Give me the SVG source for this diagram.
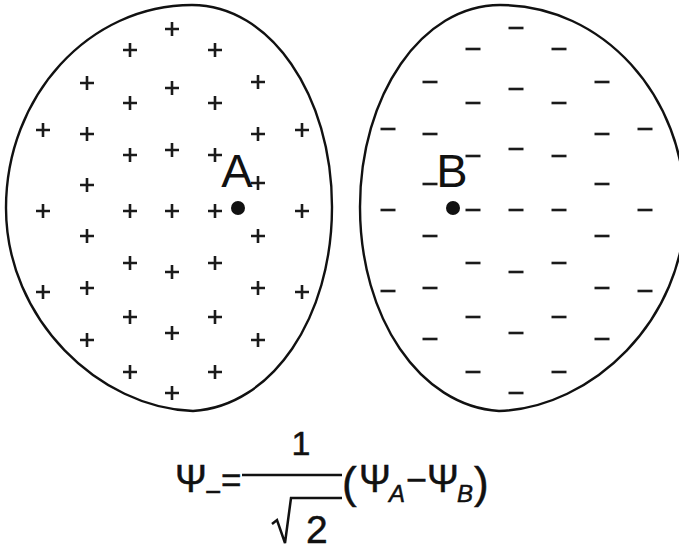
<svg xmlns="http://www.w3.org/2000/svg" width="679" height="550" viewBox="0 0 679 550">
<style>
.outline{fill:none;stroke:#111;stroke-width:2.4;stroke-linejoin:round}
.chg{fill:none;stroke:#1a1a1a;stroke-width:2.6}
.lbl{font-family:"Liberation Sans",Arial,sans-serif;font-size:47px;fill:#111}
.f{font-family:"Liberation Sans",Arial,sans-serif;font-size:38px;fill:#111;stroke:#111;stroke-width:0.5}
.it{font-size:24px;font-style:italic}
.math{fill:none;stroke:#111;stroke-width:2.5}
</style>
<defs>
<path id="plus" class="chg" d="M-7,0H7M0,-7V7"/>
<path id="minus" class="chg" d="M-7.5,0H7.5"/>
</defs>
<rect width="679" height="550" fill="#fff"/>
<g id="orbital-A">
<path class="outline" d="M192,5 C270,5 332,95 332,207 C332,318 272,406 193,411 C100,408 6,320 6,208 C6,96 89,5 192,5 Z"/>
<g id="charges-A">
<use href="#plus" x="172" y="29"/>
<use href="#plus" x="130" y="50"/><use href="#plus" x="215" y="50"/>
<use href="#plus" x="87" y="83"/><use href="#plus" x="172" y="88"/><use href="#plus" x="258" y="82"/>
<use href="#plus" x="130" y="103"/><use href="#plus" x="215" y="103"/>
<use href="#plus" x="43" y="130"/><use href="#plus" x="87" y="134"/><use href="#plus" x="258" y="134"/><use href="#plus" x="302" y="130"/>
<use href="#plus" x="130" y="155"/><use href="#plus" x="172" y="150"/><use href="#plus" x="215" y="155"/>
<use href="#plus" x="87" y="185"/><use href="#plus" x="258" y="183"/>
<use href="#plus" x="43" y="211"/><use href="#plus" x="130" y="211"/><use href="#plus" x="172" y="211"/><use href="#plus" x="215" y="211"/><use href="#plus" x="302" y="211"/>
<use href="#plus" x="87" y="236"/><use href="#plus" x="258" y="236"/>
<use href="#plus" x="130" y="263"/><use href="#plus" x="172" y="272"/><use href="#plus" x="215" y="263"/>
<use href="#plus" x="43" y="292"/><use href="#plus" x="87" y="288"/><use href="#plus" x="258" y="288"/><use href="#plus" x="302" y="292"/>
<use href="#plus" x="130" y="317"/><use href="#plus" x="172" y="333"/><use href="#plus" x="215" y="317"/>
<use href="#plus" x="87" y="340"/><use href="#plus" x="258" y="340"/>
<use href="#plus" x="130" y="372"/><use href="#plus" x="215" y="372"/>
<use href="#plus" x="172" y="393"/>
</g>
<text class="lbl" x="237" y="187" text-anchor="middle">A</text>
<circle cx="238" cy="208" r="7" fill="#111"/>
</g>
<g id="orbital-B">
<path class="outline" d="M500,5 C422,5 360,95 360,207 C360,318 420,406 499,411 C592,408 685,320 685,208 C685,96 603,5 500,5 Z"/>
<g id="charges-B">
<use href="#minus" x="516" y="28"/>
<use href="#minus" x="473" y="49"/><use href="#minus" x="559" y="49"/>
<use href="#minus" x="430" y="82"/><use href="#minus" x="516" y="89"/><use href="#minus" x="602" y="82"/>
<use href="#minus" x="473" y="103"/><use href="#minus" x="559" y="103"/>
<use href="#minus" x="388" y="129"/><use href="#minus" x="430" y="134"/><use href="#minus" x="602" y="134"/><use href="#minus" x="645" y="129"/>
<use href="#minus" x="473" y="156"/><use href="#minus" x="516" y="149"/><use href="#minus" x="559" y="156"/>
<use href="#minus" x="430" y="184"/><use href="#minus" x="602" y="184"/>
<use href="#minus" x="388" y="210"/><use href="#minus" x="473" y="210"/><use href="#minus" x="516" y="210"/><use href="#minus" x="559" y="210"/><use href="#minus" x="645" y="210"/>
<use href="#minus" x="430" y="236"/><use href="#minus" x="602" y="236"/>
<use href="#minus" x="473" y="263"/><use href="#minus" x="516" y="272"/><use href="#minus" x="559" y="263"/>
<use href="#minus" x="388" y="291"/><use href="#minus" x="430" y="288"/><use href="#minus" x="602" y="288"/><use href="#minus" x="645" y="291"/>
<use href="#minus" x="473" y="317"/><use href="#minus" x="516" y="333"/><use href="#minus" x="559" y="317"/>
<use href="#minus" x="430" y="339"/><use href="#minus" x="602" y="339"/>
<use href="#minus" x="473" y="372"/><use href="#minus" x="559" y="372"/>
<use href="#minus" x="516" y="393"/>
</g>
<text class="lbl" x="452" y="187" text-anchor="middle">B</text>
<circle cx="453" cy="208" r="7" fill="#111"/>
</g>
<g id="formula">
<text class="f"><tspan x="175" y="492">Ψ</tspan><tspan x="205" y="501" style="font-size:28px">−</tspan><tspan x="221" y="492" style="font-size:35px">=</tspan></text>
<line class="math" x1="242" y1="475" x2="342" y2="475"/>
<text class="f" x="301" y="455" text-anchor="middle" style="font-size:34px">1</text>
<path class="math" d="M272,524 L277,520 L285,543 L291,498 L342,498" stroke-linejoin="miter"/>
<text class="f" x="306" y="543" style="font-size:39px">2</text>
<text class="f"><tspan x="342" y="498" style="font-size:44px">(</tspan><tspan x="359" y="492">Ψ</tspan><tspan class="it" x="389" y="502">A</tspan><tspan x="406" y="492" style="font-size:36px">−</tspan><tspan x="427" y="492">Ψ</tspan><tspan class="it" x="457" y="502">B</tspan><tspan x="474" y="498" style="font-size:44px">)</tspan></text>
</g>
</svg>
